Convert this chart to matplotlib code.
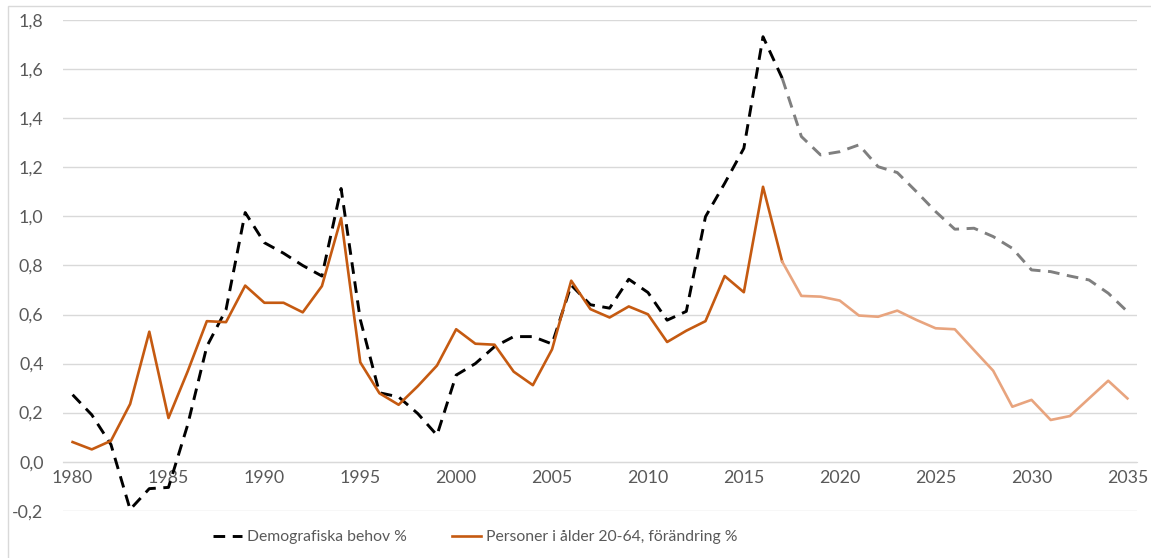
import matplotlib.pyplot as plt
from matplotlib.patches import Rectangle
from matplotlib.ticker import FuncFormatter, MultipleLocator

plt.rcParams["font.family"] = ["Lato", "DejaVu Sans"]

years = list(range(1980, 2036))

# Demografiska behov % (measured to 2017, projection after)
demografiska_behov = [
    0.273, 0.191, 0.07, -0.195, -0.11, -0.105, 0.15, 0.47, 0.62, 1.016,
    0.893, 0.85, 0.80, 0.757, 1.114, 0.58, 0.281, 0.264, 0.196, 0.108,
    0.353, 0.40, 0.469, 0.51, 0.51, 0.48, 0.72, 0.64, 0.626, 0.744,
    0.69, 0.577, 0.613, 0.999, 1.135, 1.278, 1.733, 1.564, 1.326, 1.251,
    1.264, 1.292, 1.203, 1.179, 1.101, 1.02, 0.948, 0.952, 0.918, 0.87,
    0.782, 0.775, 0.757, 0.741, 0.687, 0.612,
]

# Personer i ålder 20-64, förändring %
personer_20_64 = [
    0.08, 0.05, 0.085, 0.235, 0.53, 0.178, 0.368, 0.573, 0.569, 0.718,
    0.648, 0.648, 0.609, 0.716, 0.993, 0.405, 0.279, 0.232, 0.308, 0.392,
    0.54, 0.481, 0.477, 0.367, 0.312, 0.458, 0.738, 0.622, 0.588, 0.633,
    0.601, 0.488, 0.534, 0.573, 0.757, 0.691, 1.121, 0.816, 0.676, 0.673,
    0.657, 0.596, 0.591, 0.616, 0.578, 0.544, 0.540, 0.455, 0.371, 0.224,
    0.252, 0.170, 0.186, 0.258, 0.330, 0.258,
]

split_year = 2017
x_ticks = list(range(1980, 2036, 5))

TEXT = "#595959"
GRID = "#D9D9D9"


def comma(v, _pos):
    return f"{v:.1f}".replace(".", ",")


def main():
    fig = plt.figure(figsize=(11.51, 5.58), dpi=100)
    ax = fig.add_axes([63 / 1151, 1 - 510.7 / 558, 1074 / 1151, 490.4 / 558])

    k = years.index(split_year) + 1
    dash = (0, (4, 2.6))

    (l_black,) = ax.plot(years[:k], demografiska_behov[:k], color="black",
                         lw=2.1, linestyle=dash, label="Demografiska behov %",
                         zorder=3)
    ax.plot(years[k - 1:], demografiska_behov[k - 1:], color="#7F7F7F",
            lw=2.1, linestyle=dash, zorder=3)
    (l_orange,) = ax.plot(years[:k], personer_20_64[:k], color="#C55A11",
                          lw=1.9, label="Personer i ålder 20-64, förändring %",
                          zorder=4)
    ax.plot(years[k - 1:], personer_20_64[k - 1:], color="#E8A47E", lw=1.9,
            zorder=4)

    ax.set_xlim(1979.5, 2035.5)
    ax.set_ylim(-0.2, 1.8)
    ax.yaxis.set_major_locator(MultipleLocator(0.2))
    ax.yaxis.set_major_formatter(FuncFormatter(comma))
    ax.set_xticks(x_ticks)
    ax.grid(axis="y", color=GRID, lw=1)
    ax.set_axisbelow(True)

    for s in ["top", "right", "left"]:
        ax.spines[s].set_visible(False)
    ax.spines["bottom"].set_position(("data", 0))
    ax.spines["bottom"].set_color(GRID)

    ax.tick_params(axis="x", length=0, pad=6, labelsize=12.8, labelcolor=TEXT)
    ax.tick_params(axis="y", length=0, pad=14, labelsize=12.8, labelcolor=TEXT)

    fig.legend(handles=[l_black, l_orange], loc="center left",
               bbox_to_anchor=(213 / 1151, 1 - 537 / 558), ncol=2,
               frameon=False, labelcolor=TEXT, fontsize=11.3, borderpad=0,
               borderaxespad=0, handlelength=1.85, handletextpad=0.3,
               columnspacing=2.9)

    # outer chart border
    fig.patches.append(Rectangle((8 / 1151, -0.1), 1.2, 1 - 6 / 558 + 0.1,
                                 transform=fig.transFigure, fill=False,
                                 edgecolor=GRID, lw=1))

    fig.savefig("out.png", dpi=100)


if __name__ == "__main__":
    main()
